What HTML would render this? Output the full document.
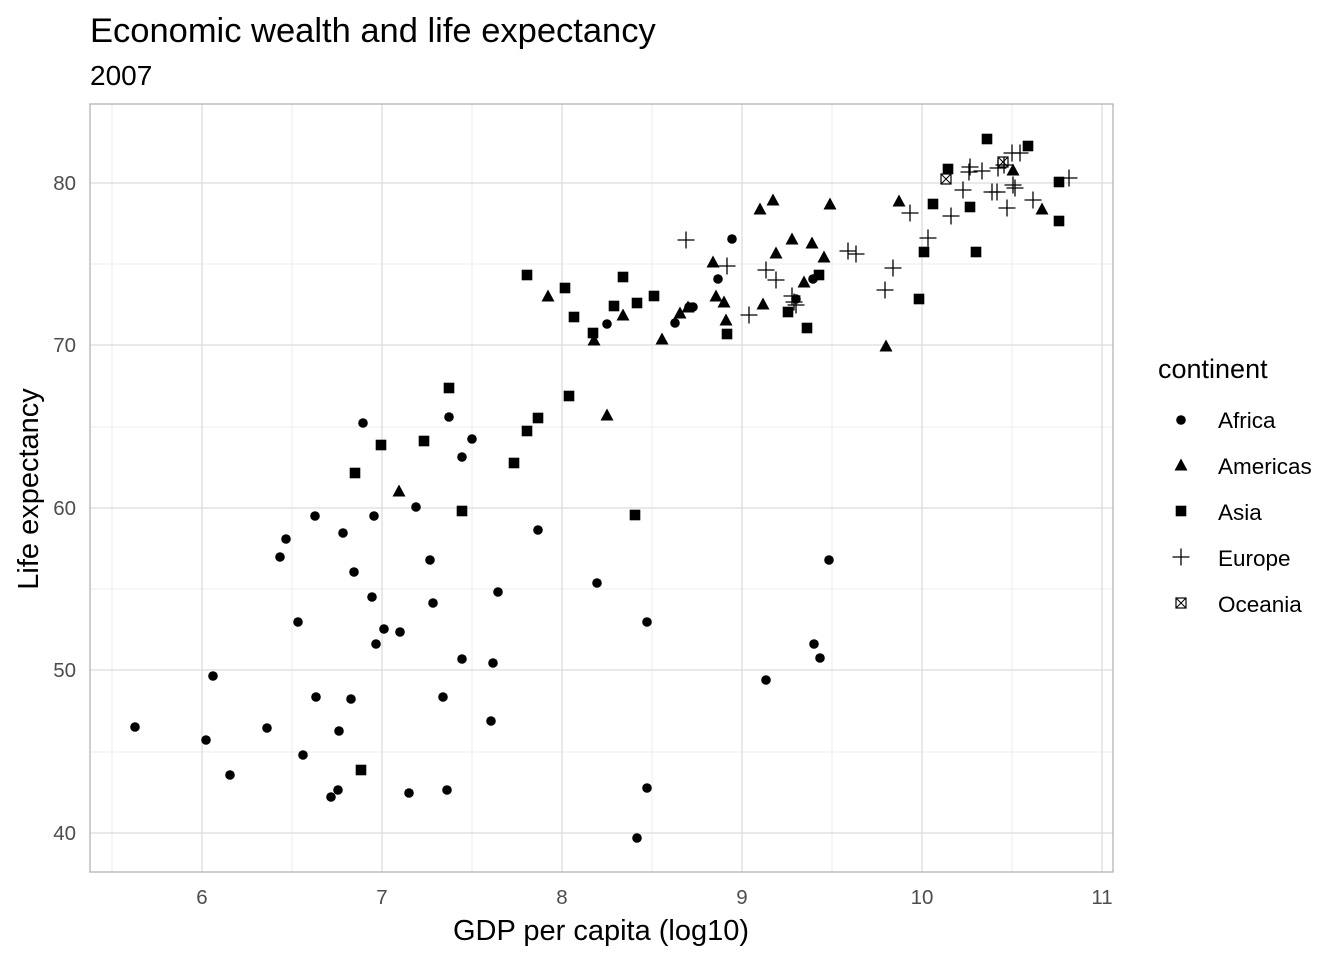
<!DOCTYPE html><html><head><style>body{margin:0;background:#fff}svg{display:block;font-family:"Liberation Sans",Arial,sans-serif}</style></head><body>
<svg width="1344" height="960" xmlns="http://www.w3.org/2000/svg">
<defs>
<circle id="c" r="4.8" fill="#000"/>
<polygon id="t" points="0,-6.5 6.5,5.5 -6.5,5.5" fill="#000"/>
<rect id="s" x="-5.3" y="-5.3" width="10.6" height="10.6" fill="#000"/>
<path id="p" d="M-8.5,0H8.5M0,-8.5V8.5" stroke="#000" stroke-width="1.3" fill="none"/>
<g id="o"><rect x="-5" y="-5" width="10" height="10" fill="none" stroke="#000" stroke-width="1.2"/><path d="M-5,-5L5,5M5,-5L-5,5" stroke="#000" stroke-width="1"/></g>
</defs>
<rect width="1344" height="960" fill="#fff"/>
<g stroke="#ececec" stroke-width="1">
<path d="M112,104V872M292,104V872M472,104V872M652,104V872M832,104V872M1012,104V872"/>
<path d="M90,752H1113M90,589H1113M90,427H1113M90,264H1113"/>
</g>
<g stroke="#dcdcdc" stroke-width="1.3">
<path d="M202,104V872M382,104V872M562,104V872M742,104V872M922,104V872M1102,104V872"/>
<path d="M90,833H1113M90,670H1113M90,508H1113M90,345H1113M90,183H1113"/>
</g>
<rect x="90" y="104" width="1023" height="768" fill="none" stroke="#b3b3b3" stroke-width="1.3"/>
<g fill="#4d4d4d" font-size="20.5" text-anchor="middle">
<text x="202" y="904">6</text><text x="382" y="904">7</text><text x="562" y="904">8</text><text x="742" y="904">9</text><text x="922" y="904">10</text><text x="1102" y="904">11</text>
</g>
<g fill="#4d4d4d" font-size="20.5" text-anchor="end">
<text x="76" y="840">40</text><text x="76" y="677">50</text><text x="76" y="515">60</text><text x="76" y="352">70</text><text x="76" y="190">80</text>
</g>
<text x="90" y="42" font-size="34.5">Economic wealth and life expectancy</text>
<text x="90" y="85" font-size="28">2007</text>
<text x="601" y="940" font-size="29" text-anchor="middle">GDP per capita (log10)</text>
<text transform="translate(38,489) rotate(-90)" font-size="29" text-anchor="middle">Life expectancy</text>
<g>
<use href="#c" x="135" y="727"/><use href="#c" x="206" y="740"/><use href="#c" x="213" y="676"/><use href="#c" x="230" y="775"/><use href="#c" x="267" y="728"/><use href="#c" x="280" y="557"/><use href="#c" x="286" y="539"/><use href="#c" x="298" y="622"/><use href="#c" x="303" y="755"/><use href="#c" x="315" y="516"/><use href="#c" x="316" y="697"/><use href="#c" x="331" y="797"/><use href="#c" x="338" y="790"/><use href="#c" x="339" y="731"/><use href="#c" x="343" y="533"/><use href="#c" x="351" y="699"/><use href="#c" x="354" y="572"/><use href="#c" x="363" y="423"/><use href="#c" x="372" y="597"/><use href="#c" x="374" y="516"/><use href="#c" x="376" y="644"/><use href="#c" x="384" y="629"/><use href="#c" x="400" y="632"/><use href="#c" x="409" y="793"/><use href="#c" x="416" y="507"/><use href="#c" x="430" y="560"/><use href="#c" x="433" y="603"/><use href="#c" x="443" y="697"/><use href="#c" x="447" y="790"/><use href="#c" x="449" y="417"/><use href="#c" x="462" y="457"/><use href="#c" x="462" y="659"/><use href="#c" x="472" y="439"/><use href="#c" x="491" y="721"/><use href="#c" x="493" y="663"/><use href="#c" x="498" y="592"/><use href="#c" x="538" y="530"/><use href="#c" x="597" y="583"/><use href="#c" x="607" y="324"/><use href="#c" x="637" y="838"/><use href="#c" x="647" y="622"/><use href="#c" x="647" y="788"/><use href="#c" x="675" y="323"/><use href="#c" x="693" y="307"/><use href="#c" x="689" y="307"/><use href="#c" x="718" y="279"/><use href="#c" x="732" y="239"/><use href="#c" x="766" y="680"/><use href="#c" x="796" y="299"/><use href="#c" x="813" y="279"/><use href="#c" x="814" y="644"/><use href="#c" x="820" y="658"/><use href="#c" x="829" y="560"/>
<use href="#t" x="548" y="296"/><use href="#t" x="623" y="315"/><use href="#t" x="594" y="340"/><use href="#t" x="662" y="339"/><use href="#t" x="680" y="313"/><use href="#t" x="688" y="307"/><use href="#t" x="713" y="262"/><use href="#t" x="716" y="296"/><use href="#t" x="724" y="302"/><use href="#t" x="726" y="320"/><use href="#t" x="760" y="209"/><use href="#t" x="773" y="200"/><use href="#t" x="763" y="304"/><use href="#t" x="776" y="253"/><use href="#t" x="792" y="239"/><use href="#t" x="812" y="243"/><use href="#t" x="804" y="282"/><use href="#t" x="824" y="257"/><use href="#t" x="830" y="204"/><use href="#t" x="399" y="491"/><use href="#t" x="607" y="415"/><use href="#t" x="886" y="346"/><use href="#t" x="1013" y="170"/><use href="#t" x="899" y="201"/><use href="#t" x="1042" y="209"/>
<use href="#s" x="355" y="473"/><use href="#s" x="381" y="445"/><use href="#s" x="361" y="770"/><use href="#s" x="424" y="441"/><use href="#s" x="449" y="388"/><use href="#s" x="462" y="511"/><use href="#s" x="527" y="431"/><use href="#s" x="538" y="418"/><use href="#s" x="514" y="463"/><use href="#s" x="569" y="396"/><use href="#s" x="635" y="515"/><use href="#s" x="919" y="299"/><use href="#s" x="924" y="252"/><use href="#s" x="976" y="252"/><use href="#s" x="527" y="275"/><use href="#s" x="565" y="288"/><use href="#s" x="574" y="317"/><use href="#s" x="593" y="333"/><use href="#s" x="614" y="306"/><use href="#s" x="623" y="277"/><use href="#s" x="637" y="303"/><use href="#s" x="654" y="296"/><use href="#s" x="727" y="334"/><use href="#s" x="788" y="312"/><use href="#s" x="807" y="328"/><use href="#s" x="819" y="275"/><use href="#s" x="987" y="139"/><use href="#s" x="1028" y="146"/><use href="#s" x="948" y="169"/><use href="#s" x="933" y="204"/><use href="#s" x="970" y="207"/><use href="#s" x="1059" y="182"/><use href="#s" x="1059" y="221"/>
<use href="#p" x="686" y="240"/><use href="#p" x="727" y="266"/><use href="#p" x="749" y="315"/><use href="#p" x="766" y="270"/><use href="#p" x="776" y="280"/><use href="#p" x="792" y="296"/><use href="#p" x="796" y="305"/><use href="#p" x="848" y="251"/><use href="#p" x="856" y="254"/><use href="#p" x="885" y="290"/><use href="#p" x="893" y="268"/><use href="#p" x="928" y="238"/><use href="#p" x="963" y="190"/><use href="#p" x="910" y="213"/><use href="#p" x="951" y="216"/><use href="#p" x="970" y="167"/><use href="#p" x="982" y="171"/><use href="#p" x="998" y="168"/><use href="#p" x="1012" y="153"/><use href="#p" x="1020" y="153"/><use href="#p" x="992" y="192"/><use href="#p" x="997" y="192"/><use href="#p" x="1013" y="185"/><use href="#p" x="1015" y="188"/><use href="#p" x="1033" y="200"/><use href="#p" x="1007" y="208"/><use href="#p" x="1069" y="178"/><use href="#p" x="969" y="172"/><use href="#p" x="794" y="302"/><use href="#p" x="1004" y="165"/>
<use href="#o" x="946" y="179"/><use href="#o" x="1003" y="162"/>
</g>
<text x="1158" y="378" font-size="27">continent</text>
<g font-size="22.5">
<use href="#c" x="1181" y="420"/><text x="1218" y="428">Africa</text>
<use href="#t" x="1181" y="465"/><text x="1218" y="474">Americas</text>
<use href="#s" x="1181" y="511"/><text x="1218" y="520">Asia</text>
<use href="#p" x="1181" y="557"/><text x="1218" y="566">Europe</text>
<use href="#o" x="1181" y="603"/><text x="1218" y="612">Oceania</text>
</g>
</svg>
</body></html>
